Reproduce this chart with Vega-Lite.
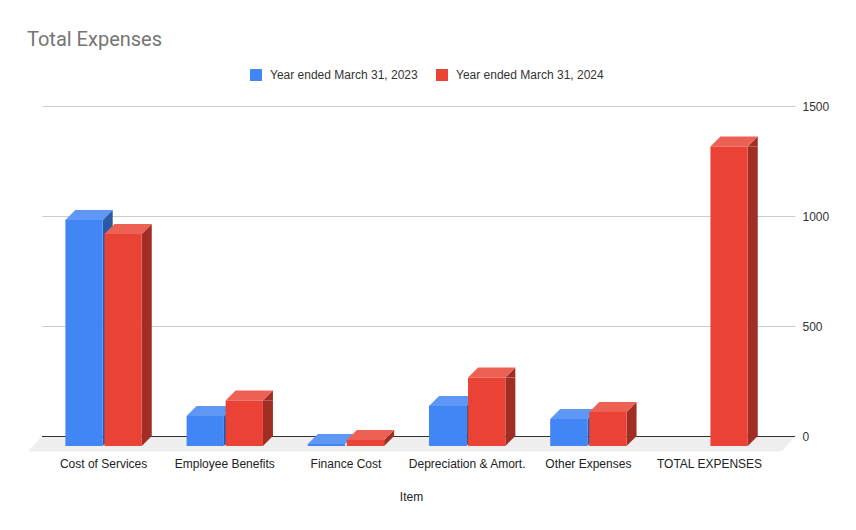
{
"$schema":"https://vega.github.io/schema/vega-lite/v6.json",
"width":753,"height":330,
"autosize":{"type":"none"},
"padding":{"left":42,"right":61,"top":106,"bottom":94},
"background":"#ffffff",
"title":{"text":"Total Expenses","anchor":"start","frame":"group","dx":-15,"offset":19,"font":"Roboto","fontSize":20,"fontWeight":"normal","color":"#757575"},
"config":{"view":{"stroke":null},"font":"Liberation Sans"},
"datasets":{"bars":[
{"item":"Cost of Services","series":"Year ended March 31, 2023","value":1027},
{"item":"Cost of Services","series":"Year ended March 31, 2024","value":964},
{"item":"Employee Benefits","series":"Year ended March 31, 2023","value":136},
{"item":"Employee Benefits","series":"Year ended March 31, 2024","value":207},
{"item":"Finance Cost","series":"Year ended March 31, 2023","value":9},
{"item":"Finance Cost","series":"Year ended March 31, 2024","value":27},
{"item":"Depreciation & Amort.","series":"Year ended March 31, 2023","value":182},
{"item":"Depreciation & Amort.","series":"Year ended March 31, 2024","value":311},
{"item":"Other Expenses","series":"Year ended March 31, 2023","value":123},
{"item":"Other Expenses","series":"Year ended March 31, 2024","value":155},
{"item":"TOTAL EXPENSES","series":"Year ended March 31, 2024","value":1361}
],"floor":[{"value":0}]},
"layer":[
{"data":{"name":"floor"},
 "mark":{"type":"point","filled":true,"opacity":1,"size":4,"fill":"#eeeeee","stroke":null,"shape":"M-390.5 15.5 L-376.5 0 L376.5 0 L363.5 15.5 Z"},
 "encoding":{"y":{"field":"value","type":"quantitative","scale":{"domain":[0,1500],"nice":false},
   "axis":{"orient":"right","values":[0,500,1000,1500],"format":"d","title":null,"domain":false,"ticks":false,"grid":true,"gridColor":"#cccccc","labelFontSize":12,"labelColor":"#333333","labelPadding":7,"labelAlign":"left"}}}},
{"data":{"name":"floor"},
 "mark":{"type":"rule","color":"#333333","strokeWidth":1,"yOffset":0.5},
 "encoding":{"y":{"field":"value","type":"quantitative"}}},
{"data":{"name":"bars"},
 "encoding":{
  "x":{"field":"item","type":"nominal","sort":null,
   "scale":{"domain":["Cost of Services","Employee Benefits","Finance Cost","Depreciation & Amort.","Other Expenses","TOTAL EXPENSES"],"paddingInner":0.37,"paddingOuter":0.2915,"align":0.331},
   "axis":{"title":"Item","titleFont":"Liberation Sans","titleFontWeight":"normal","titleFontSize":12,"titleColor":"#222222","titleX":369,"titleY":60,"titleAlign":"center","titleBaseline":"middle","labelAngle":0,"labelFontSize":12,"labelColor":"#222222","labelPadding":27,"labelBaseline":"middle","domain":false,"ticks":false,"grid":false}},
  "xOffset":{"field":"series","type":"nominal","scale":{"domain":["Year ended March 31, 2023","Year ended March 31, 2024"],"paddingInner":0.045,"paddingOuter":0}},
  "y":{"field":"value","type":"quantitative","stack":null}
 },
 "layer":[
  {"transform":[{"filter":"datum.series=='Year ended March 31, 2023' && datum.value>=45"}],
   "mark":{"type":"rule","strokeWidth":10,"yOffset":10,"color":"#2a59a6"},
   "encoding":{"xOffset":null,"x":{"field":"item","type":"nominal","bandPosition":0.554},"y2":{"datum":0}}},
  {"transform":[{"filter":"datum.series=='Year ended March 31, 2023' && datum.value>=45"}],
   "mark":{"type":"point","filled":true,"opacity":1,"size":4,"fill":"#2a59a6","stroke":null,"shape":"M18.65 10 L28.65 0 L28.65 10 Z"}},
  {"transform":[{"filter":"datum.series=='Year ended March 31, 2023' && datum.value>=45"}],
   "mark":{"type":"point","filled":true,"opacity":1,"size":4,"fill":"#2a59a6","stroke":null,"shape":"M18.65 0 L28.65 0 L18.65 10 Z"},
   "encoding":{"y":{"datum":0}}},
  {"transform":[{"filter":"datum.series=='Year ended March 31, 2023'"}],
   "mark":{"type":"point","filled":true,"opacity":1,"size":4,"fill":"#5f97f6","stroke":null,"shape":"M-18.65 10 L18.65 10 L28.65 0 L-8.65 0 Z"}},
  {"transform":[{"filter":"datum.series=='Year ended March 31, 2023'"}],
   "mark":{"type":"bar","yOffset":10,"y2Offset":10},
   "encoding":{"y2":{"datum":0},"color":{"field":"series","type":"nominal","scale":{"domain":["Year ended March 31, 2023","Year ended March 31, 2024"],"range":["#4285f4","#ea4335"]},
    "legend":{"title":null,"orient":"none","legendX":208,"legendY":-37,"direction":"horizontal","columns":2,"symbolType":"square","symbolSize":144,"symbolStrokeWidth":0,"labelFontSize":12,"labelColor":"#333333","labelOffset":8,"columnPadding":18}}}},
  {"transform":[{"filter":"datum.series=='Year ended March 31, 2024' && datum.value>=45"}],
   "mark":{"type":"rule","strokeWidth":10,"yOffset":10,"color":"#a12e24"},
   "encoding":{"xOffset":null,"x":{"field":"item","type":"nominal","bandPosition":1.0657},"y2":{"datum":0}}},
  {"transform":[{"filter":"datum.series=='Year ended March 31, 2024' && datum.value>=45"}],
   "mark":{"type":"point","filled":true,"opacity":1,"size":4,"fill":"#a12e24","stroke":null,"shape":"M18.65 10 L28.65 0 L28.65 10 Z"}},
  {"transform":[{"filter":"datum.series=='Year ended March 31, 2024' && datum.value>=45"}],
   "mark":{"type":"point","filled":true,"opacity":1,"size":4,"fill":"#a12e24","stroke":null,"shape":"M18.65 0 L28.65 0 L18.65 10 Z"},
   "encoding":{"y":{"datum":0}}},
  {"transform":[{"filter":"datum.series=='Year ended March 31, 2024' && datum.value<45"}],
   "mark":{"type":"point","filled":true,"opacity":1,"size":4,"fill":"#a12e24","stroke":null,"shape":"M18.65 10 L28.65 0 L28.65 6 L18.65 16 Z"}},
  {"transform":[{"filter":"datum.series=='Year ended March 31, 2024'"}],
   "mark":{"type":"point","filled":true,"opacity":1,"size":4,"fill":"#ed6155","stroke":null,"shape":"M-18.65 10 L18.65 10 L28.65 0 L-8.65 0 Z"}},
  {"transform":[{"filter":"datum.series=='Year ended March 31, 2024'"}],
   "mark":{"type":"bar","yOffset":10,"y2Offset":10},
   "encoding":{"y2":{"datum":0},"color":{"field":"series","type":"nominal"}}}
 ]}
]
}
